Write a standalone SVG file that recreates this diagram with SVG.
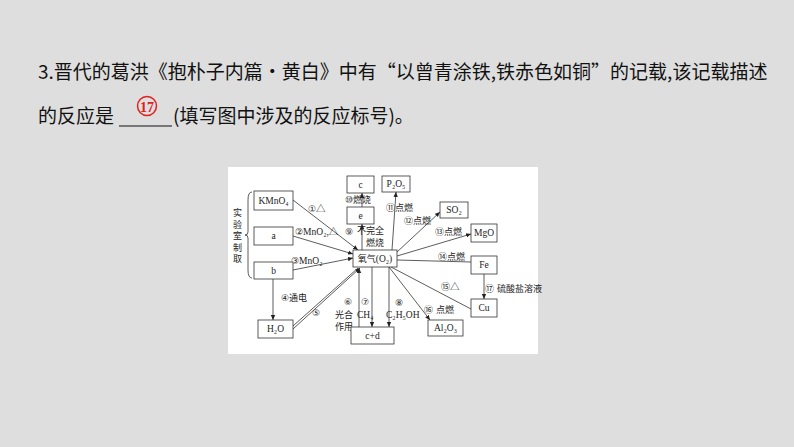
<svg xmlns="http://www.w3.org/2000/svg" width="794" height="447" viewBox="0 0 794 447">
<defs>
<marker id="ah" markerWidth="6" markerHeight="6" refX="5" refY="3" orient="auto" markerUnits="userSpaceOnUse"><path d="M0,0.8 L5,3 L0,5.2 z" fill="#222"/></marker>
<style>
.t{font-family:"Liberation Serif","Noto Sans CJK SC",serif;font-size:9.5px;fill:#222}
.c{font-family:"Noto Sans CJK SC",sans-serif;font-size:9px;fill:#222}
.n{font-family:"DejaVu Sans","Noto Sans CJK SC",sans-serif;font-size:9px;fill:#222}
.h{font-family:"Noto Sans CJK SC",sans-serif;font-size:19px;fill:#111}
.b{fill:#fff;stroke:#333;stroke-width:0.8}
.l{stroke:#333;stroke-width:0.8;fill:none}
.a{stroke:#333;stroke-width:0.8;fill:none;marker-end:url(#ah)}
</style>
</defs>
<rect width="794" height="447" fill="#dedede"/>
<text class="h" x="38" y="79">3.晋代的葛洪《抱朴子内篇·黄白》中有“以曾青涂铁,铁赤色如铜”的记载,该记载描述</text>
<text class="h" x="38" y="123">的反应是</text>
<line x1="119" y1="126" x2="172" y2="126" stroke="#111" stroke-width="1.2"/>
<circle cx="147" cy="106" r="9.5" fill="none" stroke="#d22" stroke-width="1.5"/>
<text x="147" y="111.5" text-anchor="middle" font-family="Liberation Serif,serif" font-size="14" font-weight="bold" fill="#d22">17</text>
<text class="h" x="173" y="123">(填写图中涉及的反应标号)。</text>
<rect x="228" y="167" width="310" height="187" fill="#fff"/>
<g id="connectors">
<line class="a" x1="293" y1="200" x2="358" y2="250"/>
<line class="a" x1="293" y1="236" x2="353" y2="254"/>
<line class="a" x1="293" y1="270" x2="353" y2="258"/>
<line class="a" x1="273" y1="279" x2="273" y2="320"/>
<line class="l" x1="293" y1="326" x2="358" y2="268"/>
<line class="a" x1="293" y1="329" x2="360" y2="268"/>
<line class="a" x1="359" y1="327" x2="359" y2="268"/>
<line class="a" x1="372" y1="267" x2="372" y2="327"/>
<line class="a" x1="389" y1="267" x2="389" y2="327"/>
<line class="a" x1="362" y1="250" x2="362" y2="224"/>
<line class="a" x1="362" y1="207" x2="362" y2="193"/>
<line class="a" x1="392" y1="250" x2="396" y2="192"/>
<line class="a" x1="397" y1="252" x2="440" y2="212"/>
<line class="a" x1="397" y1="256" x2="471" y2="234"/>
<line class="l" x1="397" y1="260" x2="471" y2="262"/>
<line class="l" x1="391" y1="267" x2="471" y2="309"/>
<line class="a" x1="389" y1="267" x2="430" y2="320"/>
<line class="a" x1="484" y1="274" x2="484" y2="299"/>
<path class="l" d="M252,192 Q248,192 248,200 L248,232 Q248,235 245,235 Q248,235 248,238 L248,270 Q248,278 252,278"/>
</g>
<g id="labels">
<text class="c"><tspan x="233" y="216">实</tspan><tspan x="233" y="227.5">验</tspan><tspan x="233" y="239">室</tspan><tspan x="233" y="250.5">制</tspan><tspan x="233" y="262">取</tspan></text>
<text class="n" x="308" y="212">①<tspan class="t">△</tspan></text>
<text class="n" x="295" y="235">②<tspan class="t">MnO₂,△</tspan></text>
<text class="n" x="291" y="264">③<tspan class="t">MnO₂</tspan></text>
<text class="n" x="281" y="301">④<tspan class="c">通电</tspan></text>
<text class="n" x="312" y="316">⑤</text>
<text class="n" x="344" y="305">⑥</text><text class="c" x="335" y="318">光合</text><text class="c" x="335" y="330">作用</text>
<text class="n" x="361" y="305">⑦</text><text class="t" x="357" y="318">CH₄</text>
<text class="n" x="395" y="306">⑧</text><text class="t" x="386" y="318">C₂H₅OH</text>
<text class="n" x="345" y="235">⑨</text><text class="c" x="357" y="234">不完全</text><text class="c" x="366" y="246">燃烧</text>
<text class="n" x="345" y="203">⑩<tspan class="c">燃烧</tspan></text>
<text class="n" x="386" y="211">⑪<tspan class="c">点燃</tspan></text>
<text class="n" x="404" y="224">⑫<tspan class="c">点燃</tspan></text>
<text class="n" x="435" y="235">⑬<tspan class="c">点燃</tspan></text>
<text class="n" x="438" y="260">⑭<tspan class="c">点燃</tspan></text>
<text class="n" x="441" y="290">⑮<tspan class="t">△</tspan></text>
<text class="n" x="424" y="313">⑯ <tspan class="c">点燃</tspan></text>
<text class="n" x="485" y="292">⑰ <tspan class="c">硫酸盐溶液</tspan></text>
</g>
<g id="n_kmno4"><rect class="b" x="254" y="191" width="39" height="19"/><text class="t" x="273.5" y="203.5" text-anchor="middle">KMnO₄</text></g>
<g id="n_a"><rect class="b" x="254" y="227" width="39" height="18"/><text class="t" x="273.5" y="239" text-anchor="middle">a</text></g>
<g id="n_b"><rect class="b" x="254" y="262" width="39" height="17"/><text class="t" x="273.5" y="274" text-anchor="middle">b</text></g>
<g id="n_h2o"><rect class="b" x="258" y="320" width="35" height="18"/><text class="t" x="275.5" y="332" text-anchor="middle">H₂O</text></g>
<g id="n_c"><rect class="b" x="347" y="176" width="27" height="17"/><text class="t" x="360.5" y="187.5" text-anchor="middle">c</text></g>
<g id="n_p2o5"><rect class="b" x="382" y="176" width="28" height="16"/><text class="t" x="396" y="187" text-anchor="middle">P₂O₅</text></g>
<g id="n_e"><rect class="b" x="347" y="207" width="27" height="17"/><text class="t" x="360.5" y="218.5" text-anchor="middle">e</text></g>
<g id="n_o2"><rect class="b" x="353" y="250" width="44" height="17"/><text class="t" x="375" y="261.5" text-anchor="middle"><tspan class="c">氧气</tspan>(O₂)</text></g>
<g id="n_so2"><rect class="b" x="440" y="202" width="28" height="16"/><text class="t" x="454" y="213" text-anchor="middle">SO₂</text></g>
<g id="n_mgo"><rect class="b" x="471" y="224" width="26" height="18"/><text class="t" x="484" y="236" text-anchor="middle">MgO</text></g>
<g id="n_fe"><rect class="b" x="471" y="256" width="26" height="18"/><text class="t" x="484" y="268" text-anchor="middle">Fe</text></g>
<g id="n_cu"><rect class="b" x="471" y="299" width="26" height="18"/><text class="t" x="484" y="311" text-anchor="middle">Cu</text></g>
<g id="n_al2o3"><rect class="b" x="428" y="320" width="35" height="16"/><text class="t" x="445.5" y="331" text-anchor="middle">Al₂O₃</text></g>
<g id="n_cd"><rect class="b" x="351" y="327" width="43" height="17"/><text class="t" x="372.5" y="338.5" text-anchor="middle">c+d</text></g>
</svg>
